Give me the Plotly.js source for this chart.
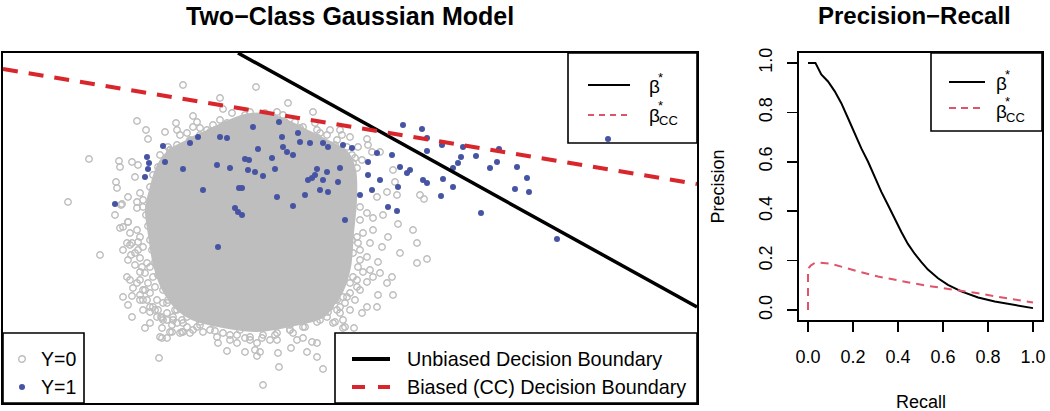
<!DOCTYPE html>
<html><head><meta charset="utf-8">
<script src="https://cdn.plot.ly/plotly-3.0.1.min.js"></script>
<style>html,body{margin:0;padding:0;background:#fff}</style>
</head><body><div id="chart" style="width:1050px;height:411px"></div>
<script>
// ---------- Left panel data (arbitrary feature units) ----------
// dense core of the Y=0 cloud (outline of the solid region)
const coreX = [186,205,226,245,268,290,310,330,347,355,356,353,350,343,335,323,290,257,223,192,178,163,154,149,146,150,158,172];
const coreY = [140,132,122,115,114,122,132,142,152,170,200,233,267,290,303,317,326,331,327,319,310,290,265,235,210,190,165,147];

// individual Y=0 points around the core
const y0X = [183,220,137,193,176,146,165,177,193,180,148,89,119,132,120,138,116,117,135,68,128,121,223,232,207,227,213,168,177,
  256,288,313,277,283,245,260,295,315,330,340,320,350,367,358,368,372,355,362,357,380,393,395,387,420,424,377,397,350,342,
  115,122,128,120,137,100,130,131,138,140,130,137,145,123,132,128,140,150,132,145,161,172,160,
  413,417,427,417,398,400,388,383,373,382,378,392,387,393,378,377,373,367,360,367,362,357,343,354,370,380,360,358,
  143,155,162,162,167,170,159,182,190,203,218,227,245,255,260,257,263,279,278,291,307,317,323,303,312,317,293,333,337,345,277,237,250,
  143,146,148,150,152,155,158,163,168,175,182,352,350,352,348,345,340,335,328,320,
  200,215,230,245,262,275,290,305,190,200,215,230,245,265,285,300,318,335,345,160,170,
  128,123,130,137,140,132,138,143,135,140,147,142,150,145,153,140,148,155,143,150,157,163,150,158,167,173,163,177,187,183,193,
  170,177,158,153,160,150,155,140,137,143,187,200,210,220,197,
  360,367,373,363,370,360,367,358,363,353,357,350,355,345,350,340,343,335,
  250,265,273,290,303,317,327,337,347,352,353,247,268,
  173,183,197,210,223,237,250,263,277,290,303,317,327,257,270,297,230,217,
  127,123,128,135,127,133,140,147,153,143,157,167,150,162,172,180,
  167,177,187,200,213,240,263,290,323,330,337,343,
  360,357,353,350,347,340];
const y0Y = [85,98,121,116,123,130,132,130,127,135,139,159,161,162,167,165,182,188,177,202,197,205,109,113,130,123,125,147,145,
  87,103,112,112,115,115,117,122,123,130,130,133,137,139,147,145,152,158,160,168,152,170,182,192,195,199,197,195,183,135,
  215,204,222,228,208,255,245,255,242,272,280,283,290,297,296,305,300,312,317,328,317,325,337,
  230,243,259,263,224,253,237,215,218,247,262,277,283,295,295,307,277,282,290,307,313,280,328,328,270,273,260,243,
  300,310,318,338,338,332,358,332,333,332,343,351,352,350,352,356,385,367,353,348,352,357,369,338,342,343,333,323,310,327,340,343,340,
  200,215,226,240,250,262,275,290,300,310,320,210,225,240,255,270,285,300,312,320,
  325,331,335,338,338,335,330,327,140,135,130,125,120,118,122,128,138,145,155,155,150,
  222,227,233,230,237,243,250,247,253,258,263,267,267,273,277,280,283,287,290,293,300,303,307,310,313,317,320,323,327,332,330,
  150,152,167,175,180,187,193,193,202,207,133,128,132,120,122,
  207,213,230,233,243,250,257,267,272,277,287,293,300,303,310,313,320,322,
  112,113,120,125,127,130,135,140,147,155,163,122,123,
  320,323,327,330,333,335,337,335,333,330,327,322,317,343,340,340,340,337,
  243,250,260,265,277,288,295,300,307,310,317,320,323,328,332,333,
  303,310,317,322,323,330,327,325,313,307,300,297,
  220,237,253,283,297,307];

// Y=1 points
const y1X = [163,190,198,220,227,147,165,149,148,145,183,217,230,203,239,115,235,
  253,279,298,282,300,310,323,328,258,283,287,293,343,352,272,245,249,248,255,263,275,317,327,340,312,315,308,323,338,320,328,242,277,305,293,
  377,368,392,403,400,410,407,368,380,398,360,372,388,
  422,427,427,442,463,476,461,458,499,497,490,453,517,527,423,427,443,453,515,529,441,481,557,
  345,397,218,238,242];
const y1Y = [146,143,137,137,138,157,162,163,169,177,169,165,168,190,188,204,208,
  127,122,133,137,142,143,143,147,149,147,152,155,145,148,158,159,160,170,172,176,169,169,172,168,178,175,180,180,182,190,192,188,197,195,206,
  153,162,155,125,167,170,173,175,180,187,195,190,207,
  129,138,151,145,147,156,157,163,149,162,168,168,167,178,180,183,179,187,189,192,196,213,239,
  220,211,247,212,215];

// decision boundaries (end points at the frame)
const unbiasedX = [238, 697];
const unbiasedY = [53, 307];
const biasedX = [3, 697];
const biasedY = [69, 184];

// ---------- Right panel data ----------
const recallStar = [0,0.033,0.059,0.089,0.119,0.148,0.178,0.207,0.237,0.267,0.296,0.326,0.356,0.385,0.415,0.444,0.474,0.504,0.533,0.578,0.622,0.681,0.756,0.83,0.904,1.0];
const precisionStar = [1.0,1.0,0.953,0.925,0.885,0.837,0.776,0.715,0.654,0.600,0.539,0.478,0.424,0.370,0.316,0.268,0.228,0.194,0.164,0.129,0.102,0.076,0.051,0.035,0.022,0.008];
const recallCC = [0,0,0.005,0.012,0.03,0.052,0.104,0.163,0.237,0.311,0.385,0.459,0.533,0.607,0.681,0.756,0.83,0.904,1.0];
const precisionCC = [0,0.16,0.172,0.18,0.191,0.192,0.187,0.171,0.153,0.136,0.122,0.110,0.098,0.088,0.081,0.068,0.056,0.045,0.031];
const prTicks = [0,0.2,0.4,0.6,0.8,1.0];
const prTickText = ['0.0','0.2','0.4','0.6','0.8','1.0'];

// ---------- styling ----------
const W = 1050, H = 411;
const PX = x => x / W, PY = y => 1 - y / H;
const FONT = 'Liberation Sans, Arial, Helvetica, sans-serif';
const GRAY = '#bebebe', BLUE = '#4654a3', RED = '#d9262c', PINK = '#df536b';

const traces = [
  {x: coreX, y: coreY, xaxis: 'x', yaxis: 'y', mode: 'lines', fill: 'toself', fillcolor: GRAY,
   line: {color: GRAY, width: 2, shape: 'spline'}, hoverinfo: 'skip'},
  {x: y0X, y: y0Y, xaxis: 'x', yaxis: 'y', mode: 'markers',
   marker: {symbol: 'circle-open', size: 6.5, color: GRAY, line: {width: 1.4, color: GRAY}}},
  {x: y1X, y: y1Y, xaxis: 'x', yaxis: 'y', mode: 'markers',
   marker: {symbol: 'circle', size: 6, color: BLUE}},
  {x: unbiasedX, y: unbiasedY, xaxis: 'x', yaxis: 'y', mode: 'lines', line: {color: '#000', width: 3.5}},
  {x: biasedX, y: biasedY, xaxis: 'x', yaxis: 'y', mode: 'lines', line: {color: RED, width: 4, dash: '15px,11px'}},
  {x: recallStar, y: precisionStar, xaxis: 'x2', yaxis: 'y2', mode: 'lines', line: {color: '#000', width: 2}},
  {x: recallCC, y: precisionCC, xaxis: 'x2', yaxis: 'y2', mode: 'lines', line: {color: PINK, width: 2, dash: '8px,6px'}}
];

const frameAxis = {showgrid: false, zeroline: false, showticklabels: false, ticks: '',
  showline: true, mirror: true, linecolor: '#000', linewidth: 1.6, fixedrange: true};

const prAxis = {showgrid: false, zeroline: false, showline: true, mirror: true, linecolor: '#000', linewidth: 1.6,
  ticks: 'outside', ticklen: 10, tickwidth: 1.5, tickcolor: '#000', tickvals: prTicks, ticktext: prTickText,
  tickfont: {family: FONT, size: 18, color: '#000'}, range: [-0.04, 1.04], fixedrange: true};

const shapes = [];
const ann = [];
function rect(x0, y0, x1, y1) {
  shapes.push({type: 'rect', xref: 'paper', yref: 'paper', x0: PX(x0), x1: PX(x1), y0: PY(y1), y1: PY(y0),
    fillcolor: '#fff', line: {color: '#000', width: 1.6}, layer: 'above'});
}
function seg(x0, x1, y, color, width, dash) {
  shapes.push({type: 'line', xref: 'paper', yref: 'paper', x0: PX(x0), x1: PX(x1), y0: PY(y), y1: PY(y),
    line: {color: color, width: width, dash: dash || 'solid'}, layer: 'above'});
}
function dot(x, y, r, fill, lineColor, lw) {
  shapes.push({type: 'circle', xref: 'paper', yref: 'paper', x0: PX(x - r), x1: PX(x + r), y0: PY(y + r), y1: PY(y - r),
    fillcolor: fill, line: {color: lineColor, width: lw}, layer: 'above'});
}
function text(t, x, y, size, opts) {
  ann.push(Object.assign({text: t, xref: 'paper', yref: 'paper', x: PX(x), y: PY(y), showarrow: false,
    xanchor: 'left', yanchor: 'middle', font: {family: FONT, size: size, color: '#000'}}, opts || {}));
}
// beta label with superscript star and optional subscript
function betaLabel(x, y, sub) {
  text('\u03b2', x, y, 19);
  text('*', x + 9, y - 10, 13);
  if (sub) text(sub, x + 10, y + 6, 13);
}

// titles
text('<b>Two\u2212Class Gaussian Model</b>', 350, 16, 25, {xanchor: 'center'});
text('<b>Precision\u2212Recall</b>', 914, 16, 24, {xanchor: 'center'});
// axis titles right panel
text('Recall', 920.5, 402, 18, {xanchor: 'center'});
text('Precision', 718, 186.5, 18, {xanchor: 'center', textangle: -90});

// left panel: top-right legend
rect(568, 53, 697, 143);
seg(588, 630, 85, '#000', 2);
seg(588, 628, 115, PINK, 2, '6px,5px');
dot(608, 139, 3, BLUE, BLUE, 0);
betaLabel(647, 87, null);
betaLabel(647, 115, 'CC');

// left panel: bottom-left legend
rect(3, 333, 84, 403);
dot(22, 359, 3.3, 'rgba(0,0,0,0)', GRAY, 1.4);
dot(22, 387, 3, BLUE, BLUE, 0);
text('Y=0', 39, 359, 19.5);
text('Y=1', 39, 387, 19.5);

// left panel: bottom-right legend
rect(335, 333, 697, 403);
seg(352, 390, 359, '#000', 4);
seg(352, 390, 387, RED, 4, '13px,13px');
text('Unbiased Decision Boundary', 405, 359, 19.8);
text('Biased (CC) Decision Boundary', 405, 387, 19.8);

// right panel legend
rect(931, 53, 1042, 131);
seg(949, 985, 82, '#000', 2);
seg(949, 985, 108, PINK, 2, '7px,5px');
betaLabel(994, 84, null);
betaLabel(994, 111, 'CC');

const layout = {
  width: W, height: H, margin: {l: 0, r: 0, t: 0, b: 0}, paper_bgcolor: '#fff', plot_bgcolor: '#fff',
  showlegend: false, font: {family: FONT, color: '#000'},
  xaxis: Object.assign({}, frameAxis, {domain: [PX(3), PX(697)], range: [3, 697], anchor: 'y'}),
  yaxis: Object.assign({}, frameAxis, {domain: [PY(403), PY(53)], range: [403, 53], anchor: 'x'}),
  xaxis2: Object.assign({}, prAxis, {domain: [PX(799), PX(1042)], anchor: 'y2', ticklabelstandoff: 10}),
  yaxis2: Object.assign({}, prAxis, {domain: [PY(320), PY(53)], anchor: 'x2', tickangle: -90, ticklabelstandoff: 8}),
  shapes: shapes, annotations: ann
};

Plotly.newPlot('chart', traces, layout, {displayModeBar: false, staticPlot: true});
</script></body></html>
